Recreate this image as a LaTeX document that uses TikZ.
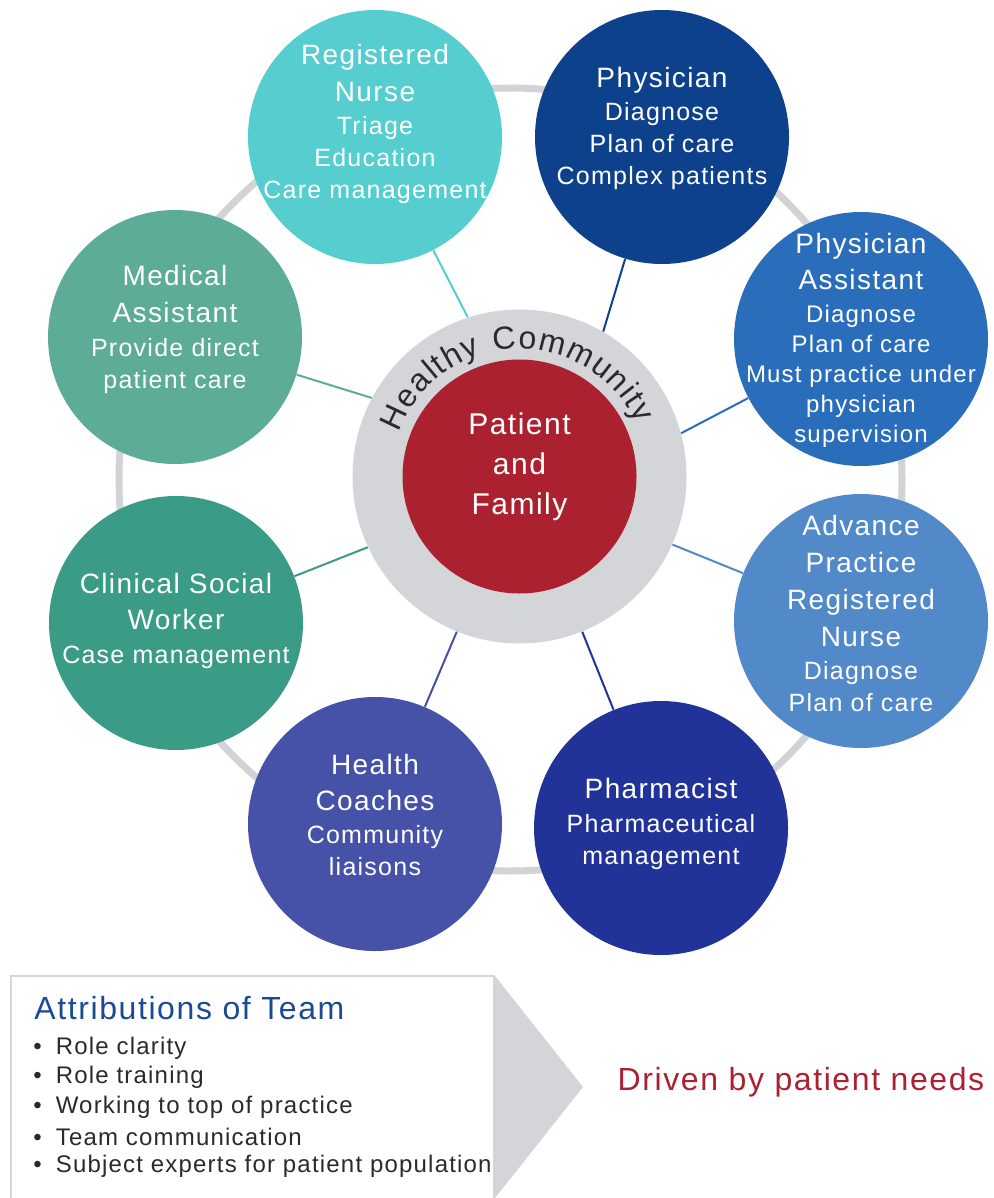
\documentclass[tikz,border=0pt]{standalone}
\usepackage{fontspec}
\setmainfont{Liberation Sans}[LetterSpace=5]
\usetikzlibrary{decorations.text}

\definecolor{cRN}{HTML}{56CDCF}
\definecolor{cPhy}{HTML}{0E418C}
\definecolor{cPA}{HTML}{2A6EBB}
\definecolor{cAPRN}{HTML}{5289C8}
\definecolor{cPharm}{HTML}{213398}
\definecolor{cHC}{HTML}{4652A8}
\definecolor{cCSW}{HTML}{3A9C87}
\definecolor{cMA}{HTML}{5CAC98}
\definecolor{cRed}{HTML}{AB2130}
\definecolor{cDisk}{HTML}{D4D5D9}
\definecolor{cRing}{HTML}{D2D3D6}
\definecolor{cHead}{HTML}{1A4A94}
\definecolor{cText}{HTML}{2A2A2E}

\newcommand\rtitle{\fontsize{14}{16}\selectfont}
\newcommand\rsub{\fontsize{12.5}{16}\selectfont}
\newcommand\rsmall{\fontsize{12}{15}\selectfont}
\newcommand\hcfont{\fontsize{16}{18}\selectfont}

\tikzset{
    ring/.style      = {draw=cRing, line width=3.5pt},
    role/.style      = {circle, minimum size=127pt, inner sep=0pt},
    roletext/.style  = {text=white, align=center, font=\rsub, inner sep=0pt},
    link/.style      = {line width=1pt},
    panel/.style     = {draw=cDisk, line width=1pt},
    bulletitem/.style= {anchor=west, inner sep=0pt, text=cText,
                        font=\fontsize{12}{14}\selectfont}
}

\begin{document}
\begin{tikzpicture}[x=0.5pt, y=0.5pt]
\useasboundingbox (0,0) rectangle (994,-1198);

% outer ring behind the roles
\draw[ring] (510.5,-479.5) circle[radius=391.5];

% community and patient core
\node[circle, fill=cDisk, minimum size=167pt, inner sep=0pt] (comm) at (519.5,-476.5) {};
\node[circle, fill=cRed, minimum size=117pt, inner sep=0pt] (pf) at (comm) {};
\node[text=white, align=center, inner sep=0pt, font=\fontsize{15}{20}\selectfont]
    (pftext) at (519.5,-467) {Patient\\and\\Family};
\path[decorate, decoration={text effects along path, text={Healthy Community},
      text align=center,
      text effects/.cd,
        text along path,
        characters={text=cText, font=\hcfont},
        character widths={font=\hcfont, inner xsep=0.35pt}}]
    ([shift={(186:128)}]comm.center) arc[start angle=186, end angle=-2, radius=128];

% role circles
\node[role, fill=cRN]    (RN)    at (375,-137) {};
\node[role, fill=cPhy]   (Phy)   at (662,-137) {};
\node[role, fill=cPA]    (PA)    at (861,-339) {};
\node[role, fill=cAPRN]  (APRN)  at (861,-621) {};
\node[role, fill=cPharm] (Pharm) at (661,-828) {};
\node[role, fill=cHC]    (HC)    at (375,-824) {};
\node[role, fill=cCSW]   (CSW)   at (176,-623) {};
\node[role, fill=cMA]    (MA)    at (175,-337) {};

% role texts
\node[roletext] (RNt) at (375,-124)
    {\rtitle Registered\\[2.5pt]\rtitle Nurse\\[0.5pt]\rsub Triage\\Education\\Care management};
\node[roletext] (Phyt) at (662,-128)
    {\rtitle Physician\\[0.5pt]\rsub Diagnose\\Plan of care\\Complex patients};
\node[roletext, font=\rsmall] (PAt) at (861,-340)
    {\rtitle Physician\\[3pt]\rtitle Assistant\\[1.5pt]\rsmall Diagnose\\Plan of care\\Must practice under\\physician\\supervision};
\node[roletext] (APRNt) at (861,-613.5)
    {\rtitle Advance\\[2.5pt]\rtitle Practice\\[2.5pt]\rtitle Registered\\[2.5pt]\rtitle Nurse\\[0.5pt]\rsub Diagnose\\Plan of care};
\node[roletext] (Pharmt) at (661,-823.5)
    {\rtitle Pharmacist\\[1pt]\rsub Pharmaceutical\\management};
\node[roletext] (HCt) at (375,-814.5)
    {\rtitle Health\\[2pt]\rtitle Coaches\\[0.5pt]\rsub Community\\liaisons};
\node[roletext] (CSWt) at (176,-620.5)
    {\rtitle Clinical Social\\[2pt]\rtitle Worker\\[1pt]\rsub Case management};
\node[roletext] (MAt) at (175,-329)
    {\rtitle Medical\\[2.5pt]\rtitle Assistant\\[1pt]\rsub Provide direct\\patient care};

% spokes from the community disk
\foreach \r/\a in {RN/108, Phy/60, PA/15.5, APRN/-24, Pharm/-68, HC/-112, CSW/205, MA/152}
    \draw[link, draw=c\r] (comm.\a) -- (\r);

% attributions panel and arrow
\draw[panel] (11,-1205) -- (11,-976) -- (494,-976) -- (494,-1205);
\fill[cDisk] (495,-976) -- (583,-1087) -- (495,-1198) -- cycle;
\node[anchor=west, inner sep=0pt, text=cHead, font=\fontsize{16}{19}\selectfont]
    (head) at (34,-1008) {Attributions of Team};
\foreach \t [count=\i] in {Role clarity, Role training, Working to top of practice,
                           Team communication, Subject experts for patient population}
    \node[bulletitem] (b\i) at (33,{-1048-29.5*(\i-1)}) {\textbullet\hspace{7pt}\t};

\node[text=cRed, inner sep=0pt, font=\fontsize{16}{19}\selectfont]
    (drive) at (801,-1082) {Driven by patient needs};

\end{tikzpicture}
\end{document}
